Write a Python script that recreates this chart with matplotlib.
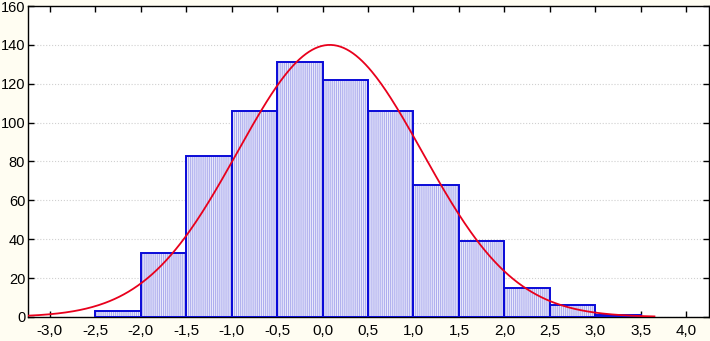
import numpy as np
import matplotlib
matplotlib.use("Agg")
import matplotlib.pyplot as plt
from matplotlib.ticker import FuncFormatter

# Histogram data
bin_edges = [-2.5, -2.0, -1.5, -1.0, -0.5, 0.0, 0.5, 1.0, 1.5, 2.0, 2.5, 3.0, 3.5]
counts = [3, 33, 83, 106, 131, 122, 106, 68, 39, 15, 6, 1]

# Fitted normal curve parameters
fit_mu = 0.08
fit_sigma = 1.016
fit_n = 713
fit_range = (-3.24, 3.65)

x_ticks = [-3.0, -2.5, -2.0, -1.5, -1.0, -0.5, 0.0, 0.5, 1.0, 1.5, 2.0, 2.5, 3.0, 3.5, 4.0]
y_ticks = [0, 20, 40, 60, 80, 100, 120, 140, 160]

plt.rcParams['font.family'] = ['Liberation Sans', 'DejaVu Sans']
plt.rcParams['hatch.linewidth'] = 0.8

fig = plt.figure(figsize=(7.10, 3.41), dpi=100, facecolor='#fffdf2')
ax = fig.add_axes([0.0394, 0.0704, 0.9592, 0.912])
ax.set_facecolor('white')

lefts = bin_edges[:-1]
widths = np.diff(bin_edges)
# striped fill
ax.bar(lefts, counts, width=widths, align='edge', facecolor='#ececfc',
       edgecolor='#aeaeee', linewidth=0, hatch='||||||||', zorder=2)
# outlines
ax.bar(lefts, counts, width=widths, align='edge', facecolor='none',
       edgecolor='#0a0ad8', linewidth=1.4, zorder=3)

bw = bin_edges[1] - bin_edges[0]
xs = np.linspace(fit_range[0], fit_range[1], 400)
ys = fit_n * bw * np.exp(-0.5 * ((xs - fit_mu) / fit_sigma) ** 2) / (fit_sigma * np.sqrt(2 * np.pi))
ax.plot(xs, ys, color='#e8001c', linewidth=1.3, zorder=4)

ax.set_xlim(-3.24, 4.25)
ax.set_ylim(0, 160)
ax.set_xticks(x_ticks)
ax.set_yticks(y_ticks)
ax.xaxis.set_major_formatter(FuncFormatter(lambda v, p: f"{v:.1f}".replace('.', ',').replace('-0,0', '0,0')))
ax.tick_params(direction='in', length=4, width=1, top=True, right=True,
               colors='black')
ax.tick_params(axis='x', pad=5, labelsize=11)
ax.tick_params(axis='y', pad=2, labelsize=10.5)
ax.grid(axis='y', linestyle=':', color='#d0d0d0', linewidth=0.8, zorder=0)
ax.set_axisbelow(True)
for s in ax.spines.values():
    s.set_linewidth(1.0)
    s.set_color('black')

fig.savefig('out.png', dpi=100, facecolor=fig.get_facecolor())
